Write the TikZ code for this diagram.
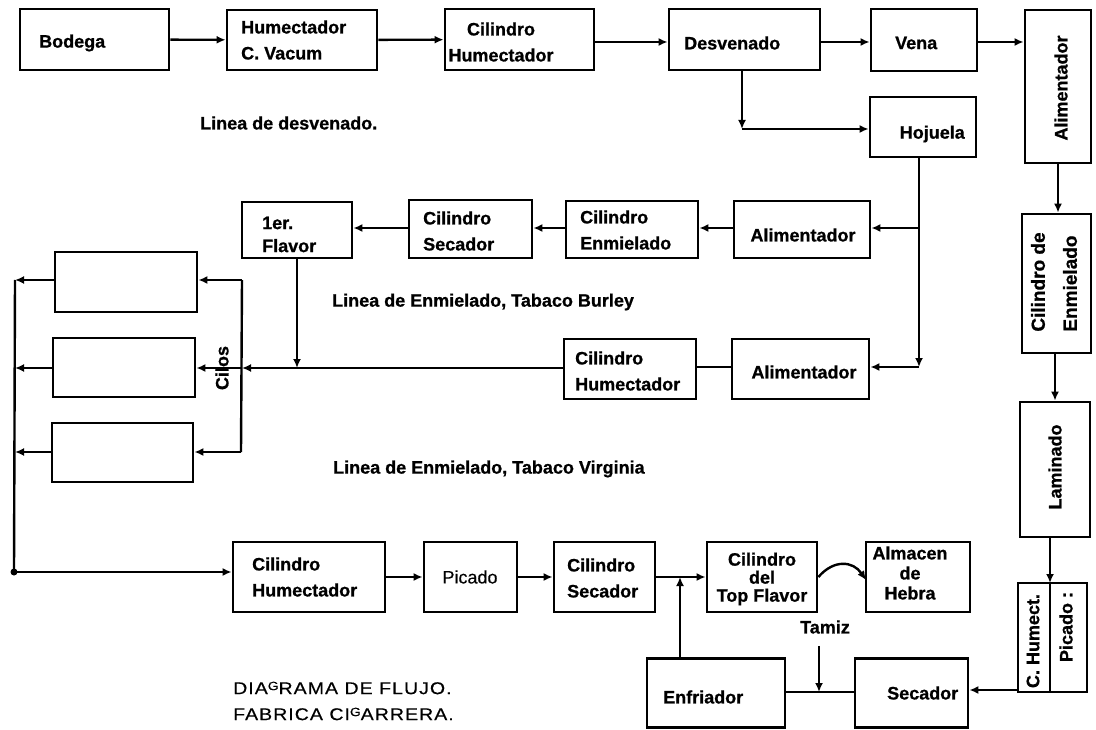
\documentclass[tikz,border=0pt]{standalone}
\usepackage{fontspec}
\setmainfont{Liberation Sans}
\usetikzlibrary{arrows.meta}
\begin{document}
\begin{tikzpicture}[x=1pt,y=-1pt,
  box/.style={draw, line width=2.8pt, rectangle, inner sep=0pt},
  ln/.style={line width=2.4pt},
  arr/.style={line width=2.4pt, -{Latex[length=9pt,width=8pt]}},
  txt/.style={font=\bfseries\fontsize{18}{26}\selectfont\addfontfeature{FakeBold=0.8}, inner sep=0pt, align=left},
  ctxt/.style={txt, align=center},
  rtxt/.style={font=\fontsize{17}{20}\selectfont\addfontfeature{LetterSpace=6,FakeStretch=1.15,FakeBold=0.4}, inner sep=0pt, align=left}]
\useasboundingbox (0,0) rectangle (1096,730);
% ---- boxes ----
\node[box, minimum width=149pt, minimum height=61pt] (bod) at (94.5,39.5) {};
\node[box, minimum width=150pt, minimum height=60pt] (hum) at (302,40) {};
\node[box, minimum width=149pt, minimum height=61pt] (chu) at (519.5,39.5) {};
\node[box, minimum width=151pt, minimum height=61pt] (des) at (744.5,39.5) {};
\node[box, minimum width=106pt, minimum height=62pt] (ven) at (924,40) {};
\node[box, minimum width=66pt, minimum height=153pt] (ali) at (1058,86.5) {};
\node[box, minimum width=106pt, minimum height=60pt] (hoj) at (923,127) {};
\node[box, minimum width=136pt, minimum height=57pt] (al2) at (802,229.5) {};
\node[box, minimum width=132pt, minimum height=57pt] (cen) at (632,229.5) {};
\node[box, minimum width=123pt, minimum height=58pt] (cse) at (470.5,229) {};
\node[box, minimum width=110pt, minimum height=56pt] (fla) at (297,230) {};
\node[box, minimum width=69pt, minimum height=139pt] (cde) at (1056.5,283.5) {};
\node[box, minimum width=137pt, minimum height=60pt] (al3) at (800.5,369) {};
\node[box, minimum width=132pt, minimum height=60pt] (ch3) at (630,369) {};
\node[box, minimum width=142pt, minimum height=60pt] (s1) at (126,282) {};
\node[box, minimum width=142pt, minimum height=59pt] (s2) at (124,367.5) {};
\node[box, minimum width=141pt, minimum height=59pt] (s3) at (122.5,452.5) {};
\node[box, minimum width=70pt, minimum height=135pt] (lam) at (1055,469.5) {};
\node[box, minimum width=69pt, minimum height=109pt] (chp) at (1052.5,637.5) {};
\node[box, minimum width=152pt, minimum height=70pt] (ch4) at (309,577) {};
\node[box, minimum width=93pt, minimum height=70pt] (pic) at (470.5,577) {};
\node[box, minimum width=101pt, minimum height=70pt] (cs4) at (604.5,577) {};
\node[box, minimum width=110pt, minimum height=70pt] (top) at (762,577) {};
\node[box, minimum width=104pt, minimum height=70pt] (alm) at (918,577) {};
\node[box, minimum width=138pt, minimum height=69pt] (enf) at (716,693) {};
\node[box, minimum width=113pt, minimum height=69pt] (sec) at (911.5,693) {};
% ---- texts ----
\node[txt, anchor=west] (tbod) at (39,43) {Bodega};
\node[txt, anchor=west] (thum) at (241,40) {Humectador\\C. Vacum};
\node[ctxt] (tchu) at (501,42) {Cilindro\\Humectador};
\node[txt, anchor=west] (tdes) at (684,43) {Desvenado};
\node[txt, anchor=west] (tven) at (895,43) {Vena};
\node[txt, anchor=east] (thoj) at (965,134) {Hojuela};
\node[txt, rotate=90] (tali) at (1061,88) {Alimentador};
\node[ctxt] (tal2) at (803,235) {Alimentador};
\node[txt, anchor=west] (tcen) at (580,230) {Cilindro\\Enmielado};
\node[txt, anchor=west] (tcse) at (423,231) {Cilindro\\Secador};
\node[txt, anchor=west, font=\bfseries\fontsize{18}{23}\selectfont\addfontfeature{FakeBold=0.8}] (tfla) at (262,234.5) {1er.\\Flavor};
\node[txt, rotate=90, font=\bfseries\fontsize{19}{32}\selectfont\addfontfeature{FakeBold=0.8}] (tcde) at (1054,282) {Cilindro de\\Enmielado};
\node[ctxt] (tal3) at (804,372) {Alimentador};
\node[txt, anchor=west] (tch3) at (575,371) {Cilindro\\Humectador};
\node[txt, rotate=90] (tcil) at (222,368) {Cilos};
\node[txt, rotate=90] (tlam) at (1055,467) {Laminado};
\node[txt, rotate=90] (tchh) at (1033,641) {C. Humect.};
\node[txt, rotate=90] (tchp) at (1066,627) {Picado :};
\node[txt, anchor=west] (tch4) at (252,577) {Cilindro\\Humectador};
\node[ctxt, font=\fontsize{18}{26}\selectfont\addfontfeature{FakeBold=0.3}] (tpic) at (470,577) {Picado};
\node[txt, anchor=west] (tcs4) at (567,578) {Cilindro\\Secador};
\node[ctxt, font=\bfseries\fontsize{18}{18}\selectfont\addfontfeature{FakeBold=0.8}] (ttop) at (762,579) {Cilindro\\del\\Top Flavor};
\node[ctxt, font=\bfseries\fontsize{18}{20}\selectfont\addfontfeature{FakeBold=0.8}] (talm) at (910,573) {Almacen\\de\\Hebra};
\node[ctxt] (ttam) at (825,627) {Tamiz};
\node[txt, anchor=west] (tenf) at (663,697) {Enfriador};
\node[txt, anchor=west] (tsec) at (887,693) {Secador};
\node[txt, anchor=west] (l1) at (200,123) {Linea de desvenado.};
\node[txt, anchor=west] (l2) at (332,302) {Linea de Enmielado, Tabaco Burley};
\node[txt, anchor=west] (l3) at (333,469) {Linea de Enmielado, Tabaco Virginia};
\node[rtxt, anchor=west] (l4) at (233,688) {DIA\raisebox{4pt}{\fontsize{12}{12}\selectfont G}RAMA DE FLUJO.};
\node[rtxt, anchor=west] (l5) at (233,714) {FABRICA CI\raisebox{4pt}{\fontsize{12}{12}\selectfont G}ARRERA.};
% ---- coordinates ----
\coordinate (dc) at (742,129);
\coordinate (hb) at (919,228);
\coordinate (hc) at (919,367);
\coordinate (rb1) at (242,280);
\coordinate (rb2) at (242,368);
\coordinate (rb3) at (241,452);
\coordinate (lb1) at (15,280);
\coordinate (lb2) at (15,368);
\coordinate (lb3) at (15,452);
\coordinate (lb4) at (14,572);
\coordinate (ej) at (680,577);
\coordinate (aj) at (866,580);
\coordinate (cj) at (1018,690);
\coordinate (tj) at (819,692);
\coordinate (dvt) at (1050,583);
\coordinate (dvb) at (1050,692);
% ---- connectors ----
\draw[arr] (bod) -- (hum);
\draw[arr] (hum) -- (chu);
\draw[arr] (chu.east |- 0,42) -- (des.west |- 0,42);
\draw[arr] (des.east |- 0,42) -- (ven.west |- 0,42);
\draw[arr] (ven.east |- 0,42) -- (ali.west |- 0,42);
\draw[arr] (des.south -| dc) -- (dc);
\draw[arr] (dc) -- (hoj.west |- dc);
\draw[arr] (hoj.south -| hc) -- (hc);
\draw[arr] (hc) -- (al3.east |- hc);
\draw[arr] (hb) -- (al2.east |- hb);
\draw[arr] (al2.west |- hb) -- (cen.east |- hb);
\draw[arr] (cen.west |- hb) -- (cse.east |- hb);
\draw[arr] (cse.west |- hb) -- (fla.east |- hb);
\draw[ln] (al3.west |- hc) -- (ch3.east |- hc);
\draw[arr] (ch3.west |- rb2) -- (rb2);
\draw[arr] (fla.south) -- (fla.south |- rb2);
\draw[ln] (rb1) -- (rb3);
\draw[arr] (rb1) -- (s1.east |- rb1);
\draw[arr] (rb2) -- (s2.east |- rb2);
\draw[arr] (rb3) -- (s3.east |- rb3);
\draw[arr] (s1.west |- lb1) -- (lb1);
\draw[arr] (s2.west |- lb2) -- (lb2);
\draw[arr] (s3.west |- lb3) -- (lb3);
\draw[ln] (lb1) -- (lb4);
\fill (lb4) circle (3.5);
\draw[arr] (lb4) -- (ch4.west |- lb4);
\draw[arr] (ch4) -- (pic);
\draw[arr] (pic) -- (cs4);
\draw[arr] (cs4) -- (top);
\draw[arr] (enf.north -| ej) -- (ej);
\draw[arr] (top.east) .. controls (834,559) and (853,561) .. (aj);
\draw[arr] (ali.south) -- (ali.south |- cde.north);
\draw[arr] (cde.south -| lam.north) -- (lam.north);
\draw[arr] (lam.south -| dvt) -- (dvt);
\draw[ln] (dvt) -- (dvb);
\draw[arr] (cj) -- (sec.east |- cj);
\draw[ln] (sec.west |- tj) -- (enf.east |- tj);
\draw[arr] (ttam.south -| tj) ++(0,12) -- (tj);
\end{tikzpicture}
\end{document}
